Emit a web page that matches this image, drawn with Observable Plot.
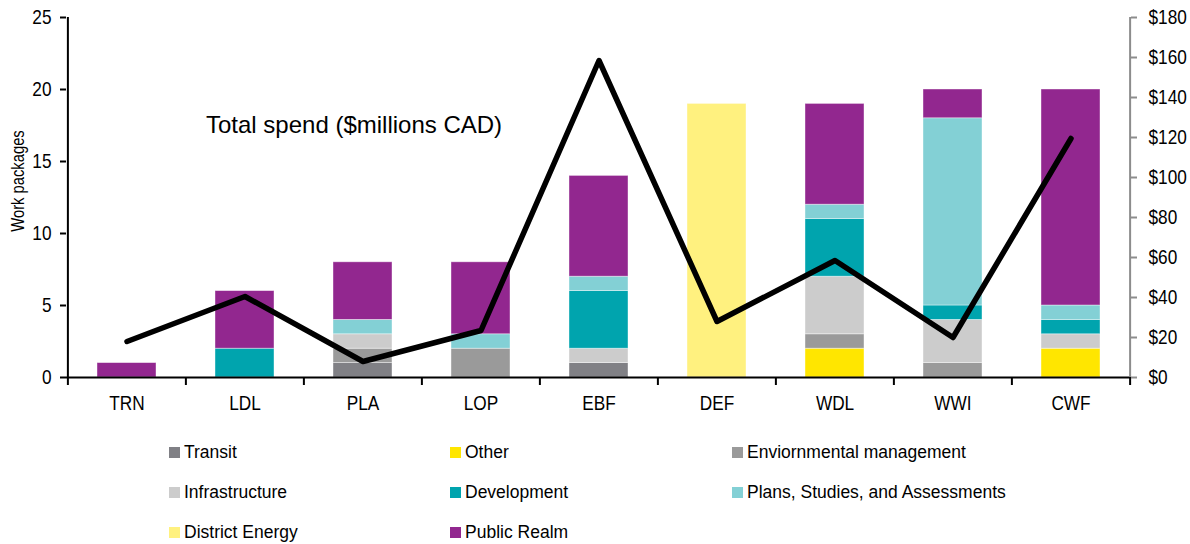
<!DOCTYPE html>
<html>
<head>
<meta charset="utf-8">
<script src="https://cdn.jsdelivr.net/npm/d3@7"></script>
<script src="https://cdn.jsdelivr.net/npm/@observablehq/plot@0.6"></script>
<style>
  body { margin: 0; background: #fff; }
  #chart { position: relative; width: 1190px; height: 544px; font-family: "Liberation Sans", Arial, sans-serif; color: #000; }
  #chart svg { position: absolute; left: 0; top: 0; overflow: visible; }
  .note { position: absolute; left: 206px; top: 113px; font-size: 24px; line-height: 1; white-space: nowrap; }
  .ylabel { position: absolute; left: 18px; top: 181px; transform: translate(-50%, -50%) rotate(-90deg) scale(0.82, 1);
            font-size: 18px; line-height: 1; white-space: nowrap; }
  .legend { position: absolute; left: 169px; top: 432px; display: grid; grid-template-columns: 281px 282px 300px; grid-auto-rows: 40px; }
  .legend .item { display: flex; align-items: center; font-size: 17.5px; white-space: nowrap; }
  .legend .sw { width: 11px; height: 11px; margin-right: 4px; flex: none; }
</style>
</head>
<body>
<div id="chart"></div>
<script>
// Work packages per neighbourhood
const packages = ["TRN", "LDL", "PLA", "LOP", "EBF", "DEF", "WDL", "WWI", "CWF"];

// Package categories, in stacking order (bottom to top), and their colours
const categories = [
  "Transit", "Other", "Enviornmental management",
  "Infrastructure", "Development", "Plans, Studies, and Assessments",
  "District Energy", "Public Realm"
];
const categoryColors = ["#808085", "#ffe600", "#9a9a9a", "#cccccc", "#00a4ae", "#83d0d5", "#fff17f", "#92278f"];

// Number of work packages per category, one value per package
const transit        = [0, 0, 1, 0, 1, 0, 0, 0, 0];
const other          = [0, 0, 0, 0, 0, 0, 2, 0, 2];
const environmental  = [0, 0, 1, 2, 0, 0, 1, 1, 0];
const infrastructure = [0, 0, 1, 0, 1, 0, 4, 3, 1];
const development    = [0, 2, 0, 0, 4, 0, 4, 1, 1];
const plans          = [0, 0, 1, 1, 1, 0, 1, 13, 1];
const districtEnergy = [0, 0, 0, 0, 0, 19, 0, 0, 0];
const publicRealm    = [1, 4, 4, 5, 7, 0, 7, 2, 15];

// Total spend per package ($ millions CAD)
const totalSpend = [18, 40.5, 8, 23.5, 158.5, 28, 58.5, 20, 119.5];

// Axis ticks
const countTicks = [0, 5, 10, 15, 20, 25];
const spendTicks = [0, 20, 40, 60, 80, 100, 120, 140, 160, 180];

const countMax = 25;
const spendMax = 180;
const toCount = (s) => s * countMax / spendMax;

const seriesByCategory = [transit, other, environmental, infrastructure, development, plans, districtEnergy, publicRealm];
const rows = packages.flatMap((p, i) =>
  categories.map((c, j) => ({ pkg: p, category: c, count: seriesByCategory[j][i] }))
).filter((d) => d.count > 0);
const spendRows = packages.map((p, i) => ({ pkg: p, spend: totalSpend[i] }));

const width = 1190, height = 430;
const marginLeft = 66, marginRight = 60, marginTop = 17, marginBottom = 53;
const step = (width - marginLeft - marginRight) / packages.length;

const chart = Plot.plot({
  width, height, marginLeft, marginRight, marginTop, marginBottom,
  style: { fontFamily: "'Liberation Sans', Arial, sans-serif", fontSize: "21px", color: "#000", background: "transparent", overflow: "visible" },
  x: { domain: packages, paddingInner: 0.5, paddingOuter: 0.25, label: null },
  y: { domain: [0, countMax], label: null },
  color: { domain: categories, range: categoryColors },
  marks: [
    Plot.barY(rows, { x: "pkg", y: "count", fill: "category", stroke: "white", strokeWidth: 0.8, strokeOpacity: 0.5 }),
    // category axis: baseline and boundary ticks between packages
    Plot.ruleY([0], { stroke: "#000", strokeWidth: 2 }),
    Plot.ruleX(packages, { x: (d) => d, dx: -step / 2, y1: 0, y2: 0, insetBottom: -8, stroke: "#000", strokeWidth: 2 }),
    Plot.ruleX(packages.slice(-1), { x: (d) => d, dx: step / 2, y1: 0, y2: 0, insetBottom: -8, stroke: "#000", strokeWidth: 2 }),
    // left axis line (work packages) and right axis line (spend)
    Plot.ruleX(packages.slice(0, 1), { x: (d) => d, dx: -step / 2, y1: 0, y2: countMax, stroke: "#000", strokeWidth: 2 }),
    Plot.ruleX(packages.slice(-1), { x: (d) => d, dx: step / 2, y1: 0, y2: countMax, stroke: "#8c8c8c", strokeWidth: 2 }),
    Plot.axisX({ tickSize: 0, tickPadding: 18, fontSize: 21, fill: "#000", label: null, className: "narrow" }),
    Plot.axisY({ anchor: "left", ticks: countTicks, tickSize: 6, tickPadding: 9, strokeWidth: 2, stroke: "#000", fill: "#000", fontSize: 21, label: null, className: "narrow" }),
    Plot.axisY({
      anchor: "right", ticks: spendTicks.map(toCount), tickSize: 6, tickPadding: 12,
      tickFormat: (v) => "$" + Math.round(v * spendMax / countMax),
      strokeWidth: 2, stroke: "#8c8c8c", fill: "#000", fontSize: 21, label: null, className: "narrow"
    }),
    // total spend line, drawn against the right-hand axis
    Plot.lineY(spendRows, { x: "pkg", y: (d) => toCount(d.spend), stroke: "#000", strokeWidth: 5.5, strokeLinejoin: "round", strokeLinecap: "round" })
  ]
});

// Condense the axis labels horizontally about their own anchor points
chart.querySelectorAll(".narrow text").forEach((t) => {
  const tr = t.getAttribute("transform");
  if (tr) {
    t.setAttribute("transform", tr + " scale(0.82,1)");
  } else {
    const x = +t.getAttribute("x") || 0, y = +t.getAttribute("y") || 0;
    t.removeAttribute("x"); t.removeAttribute("y");
    t.setAttribute("transform", `translate(${x},${y}) scale(0.82,1)`);
  }
});

const root = document.getElementById("chart");
root.appendChild(chart);

const note = document.createElement("div");
note.className = "note";
note.textContent = "Total spend ($millions CAD)";
root.appendChild(note);

const ylabel = document.createElement("div");
ylabel.className = "ylabel";
ylabel.textContent = "Work packages";
root.appendChild(ylabel);

const legend = document.createElement("div");
legend.className = "legend";
categories.forEach((c, i) => {
  const item = document.createElement("div");
  item.className = "item";
  const sw = document.createElement("span");
  sw.className = "sw";
  sw.style.background = categoryColors[i];
  const label = document.createElement("span");
  label.textContent = c;
  item.append(sw, label);
  legend.appendChild(item);
});
root.appendChild(legend);
</script>
</body>
</html>
